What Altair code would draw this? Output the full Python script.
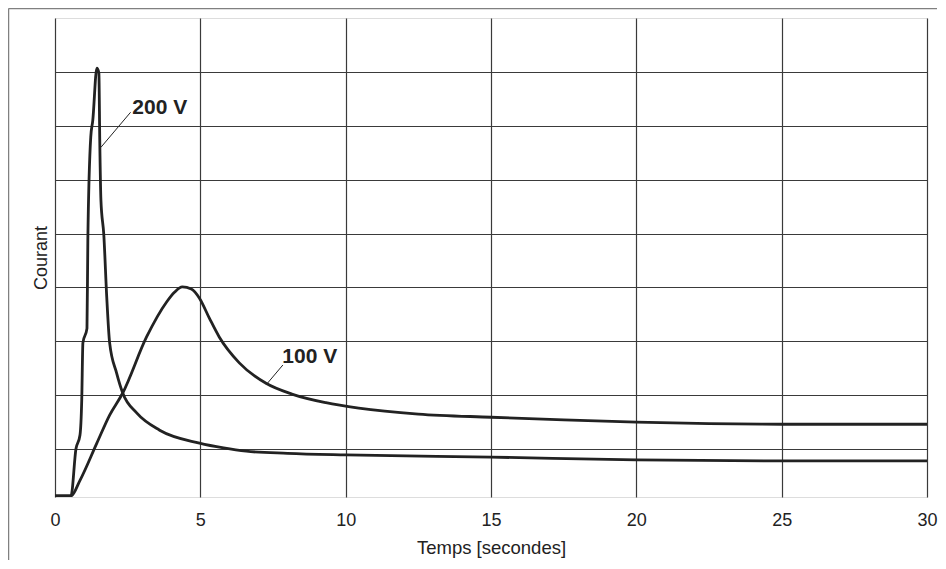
import altair as alt
import pandas as pd

# --- data ---
t200 = [0, 0.55, 0.72, 0.86, 0.92, 0.96, 1.10, 1.13, 1.23, 1.30, 1.44, 1.51, 1.54, 1.58,
        1.68, 1.78, 1.88, 2.12, 2.33, 2.81, 3.60, 4.97, 5.80, 6.58, 8.0, 10.0, 15.0, 20.0,
        25.0, 30.0]
c200 = [-0.87, -0.87, 0.0, 0.26, 0.91, 1.97, 2.24, 3.88, 5.79, 6.10, 7.07, 6.98, 5.73, 4.62,
        3.97, 2.82, 1.97, 1.41, 1.04, 0.67, 0.35, 0.11, 0.02, -0.04, -0.08, -0.11, -0.15,
        -0.20, -0.22, -0.22]

t100 = [0, 0.55, 0.86, 1.44, 1.88, 2.33, 3.15, 3.84, 4.11, 4.38, 4.69, 4.97, 5.31, 5.65,
        6.34, 7.26, 8.15, 9.32, 10.45, 12.5, 15.0, 17.5, 20.0, 22.5, 25.0, 30.0]
c100 = [-0.87, -0.87, -0.58, 0.11, 0.63, 1.04, 2.08, 2.73, 2.91, 3.01, 2.97, 2.80, 2.43, 2.08,
        1.60, 1.22, 1.02, 0.86, 0.76, 0.65, 0.59, 0.54, 0.50, 0.47, 0.46, 0.46]

label_text = ["200 V", "100 V"]
label_t = [2.66, 7.82]
label_c = [6.33, 1.71]
leader_t = [1.58, 7.26]
leader_t2 = [2.60, 7.84]
leader_c = [5.60, 1.19]
leader_c2 = [6.25, 1.56]

x_ticks = [0, 5, 10, 15, 20, 25, 30]
y_grid = [0, 1, 2, 3, 4, 5, 6, 7]

FONT = "Liberation Sans"
INK = "#222222"

rows = []
for i, (t, c) in enumerate(zip(t200, c200)):
    rows.append({"serie": "200 V", "t": t, "c": c, "o": i})
for i, (t, c) in enumerate(zip(t100, c100)):
    rows.append({"serie": "100 V", "t": t, "c": c, "o": i})
df = pd.DataFrame(rows)

labels = pd.DataFrame({"text": label_text, "t": label_t, "c": label_c})
leaders = pd.DataFrame({"t": leader_t, "t2": leader_t2, "c": leader_c, "c2": leader_c2})

xscale = alt.Scale(domain=[0, 30], nice=False, zero=False)
yscale = alt.Scale(domain=[-0.89, 8], nice=False, zero=False)

xaxis = alt.Axis(values=x_ticks, grid=True, ticks=False, domain=False,
                 labelFontSize=18, labelFont=FONT, labelColor=INK, labelPadding=14,
                 title="Temps [secondes]", titleFontSize=18.5, titleFont=FONT,
                 titleColor=INK, titleFontWeight="normal", titlePadding=9,
                 gridColor="#3a3a3a", gridWidth=1.2, gridOpacity=1,
                 labelFlush=False, labelOverlap=False)
yaxis = alt.Axis(values=y_grid, grid=True, ticks=False, domain=False, labels=False,
                 title="Courant", titleFontSize=18, titleFont=FONT, titleColor=INK,
                 titleFontWeight="normal", titlePadding=5,
                 gridColor="#3a3a3a", gridWidth=1.2, gridOpacity=1)

lines = alt.Chart(df).mark_line(color=INK, strokeWidth=2.8, interpolate="monotone",
                                clip=True).encode(
    x=alt.X("t:Q", scale=xscale, axis=xaxis),
    y=alt.Y("c:Q", scale=yscale, axis=yaxis),
    detail="serie:N",
    order="o:Q",
)

lead = alt.Chart(leaders).mark_rule(color=INK, strokeWidth=1).encode(
    x=alt.X("t:Q", scale=xscale), x2="t2:Q",
    y=alt.Y("c:Q", scale=yscale), y2="c2:Q",
)

texts = alt.Chart(labels).mark_text(align="left", baseline="middle", font=FONT,
                                    fontSize=21, fontWeight="bold", color=INK).encode(
    x=alt.X("t:Q", scale=xscale),
    y=alt.Y("c:Q", scale=yscale),
    text="text:N",
)

one = pd.DataFrame({"a": [0]})
frame_top = alt.Chart(one).mark_rule(color="#808080", strokeWidth=1.5).encode(
    x=alt.value(-46.5), x2=alt.value(882), y=alt.value(-9.5))
frame_left = alt.Chart(one).mark_rule(color="#808080", strokeWidth=1.5).encode(
    x=alt.value(-46.5), y=alt.value(-9.5), y2=alt.value(543))

chart = alt.layer(lines, lead, texts, frame_top, frame_left).properties(
    width=872, height=479,
    autosize=alt.AutoSizeParams(type="none"),
    padding={"left": 47, "top": 10, "right": 11, "bottom": 63},
).configure_view(
    fill="#dfe0e2", stroke="#7a7a7a", strokeWidth=1.5
).configure(background="white")

chart.save("out.html", embed_options={"renderer": "svg", "actions": False})
